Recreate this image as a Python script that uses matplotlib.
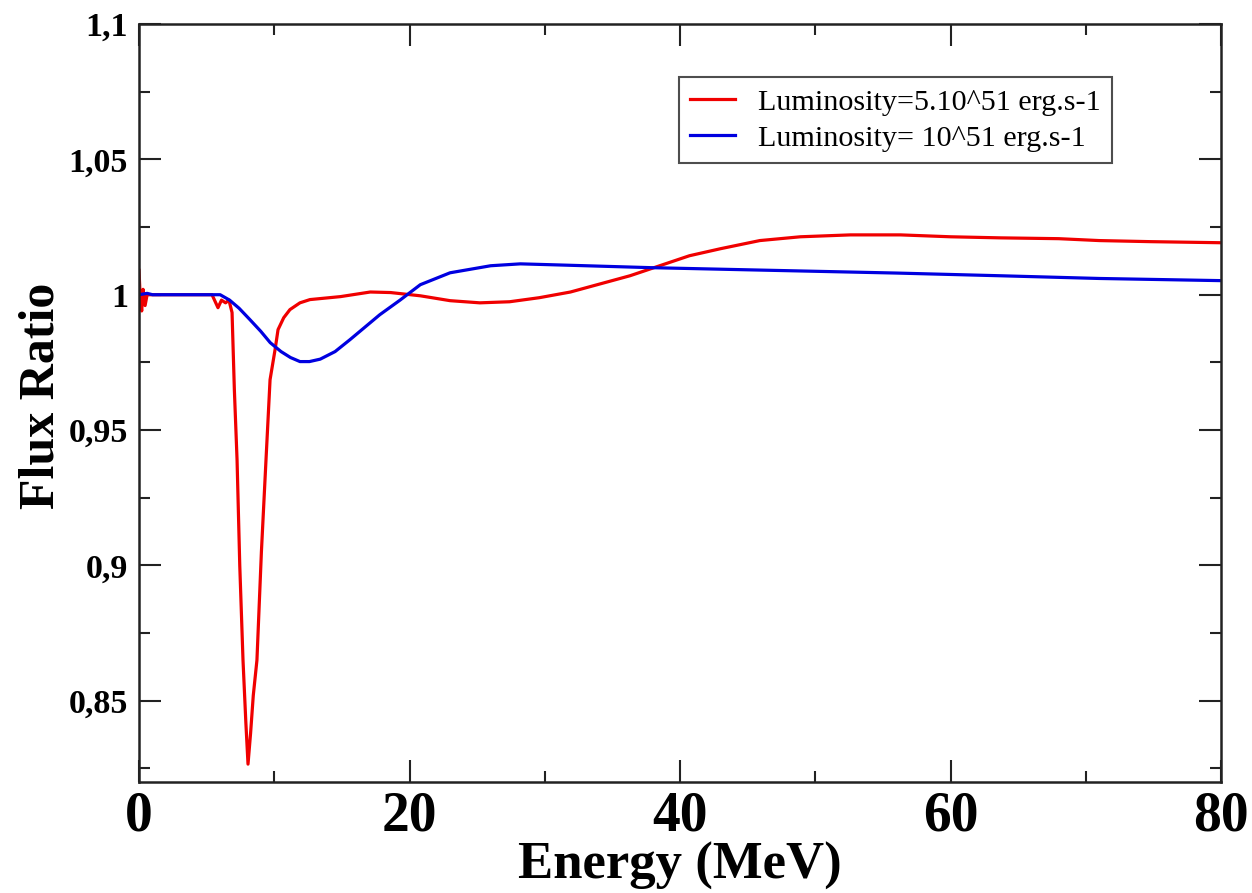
import matplotlib.pyplot as plt
from matplotlib.ticker import MultipleLocator, FuncFormatter

# Flux ratio vs neutrino energy for two luminosities
E_high = [0.0, 0.1, 0.2, 0.3, 0.45, 0.6, 1.0, 3.0, 5.4, 5.84, 6.1, 6.4, 6.65,
          6.88, 7.05, 7.25, 7.45, 7.69, 7.9, 8.06, 8.25, 8.45, 8.72, 9.05,
          9.39, 9.69, 10.06, 10.28, 10.7, 11.16, 11.9, 12.64, 14.9, 17.1,
          18.6, 20.8, 23.0, 25.2, 27.4, 29.6, 31.9, 34.1, 36.3, 38.5, 40.7,
          43.0, 45.9, 48.9, 52.6, 56.3, 60.0, 63.7, 68.0, 71.0, 74.8, 80.0]
ratio_high = [1.009, 0.998, 0.994, 1.002, 0.996, 1.0, 1.0, 1.0, 1.0, 0.9952,
              0.998, 0.997, 0.998, 0.9934, 0.965, 0.939, 0.90, 0.865, 0.842,
              0.8266, 0.838, 0.852, 0.865, 0.905, 0.939, 0.9686, 0.9797,
              0.9871, 0.9915, 0.9945, 0.997, 0.9982, 0.9993, 1.001, 1.0008,
              0.9996, 0.9978, 0.997, 0.9974, 0.9989, 1.001, 1.004, 1.007,
              1.0107, 1.0144, 1.017, 1.020, 1.0214, 1.0221, 1.0221, 1.0214,
              1.021, 1.0207, 1.020, 1.0196, 1.0192]

E_low = [0.0, 0.6, 1.0, 3.0, 6.0, 6.7, 7.4, 8.2, 9.0, 9.7, 10.5, 11.2, 11.9,
         12.6, 13.4, 14.5, 15.6, 16.7, 17.8, 19.3, 20.8, 23.0, 26.0, 28.2,
         31.0, 37.8, 45.0, 56.0, 63.7, 71.0, 80.0]
ratio_low = [1.0, 1.0005, 1.0, 1.0, 1.0, 0.998, 0.995, 0.9908, 0.9865, 0.9823,
             0.979, 0.9768, 0.9753, 0.9753, 0.9762, 0.979, 0.9834, 0.988,
             0.9926, 0.998, 1.0037, 1.0081, 1.0107, 1.0114, 1.011, 1.010,
             1.0092, 1.008, 1.007, 1.006, 1.0052]

label_high = 'Luminosity=5.10^51 erg.s-1'
label_low = 'Luminosity= 10^51 erg.s-1'

plt.rcParams['font.family'] = ['Liberation Serif', 'DejaVu Serif']

fig = plt.figure(figsize=(12.52, 8.93), dpi=100)
ax = fig.add_axes([139 / 1252, 1 - 782 / 893, 1082 / 1252, 758 / 893])

ax.plot(E_high, ratio_high, color='#f00000', lw=2.3, label=label_high)
ax.plot(E_low, ratio_low, color='#0000e0', lw=2.3, label=label_low)

ax.set_xlim(0, 80)
ax.set_ylim(0.82, 1.1)
ax.xaxis.set_major_locator(MultipleLocator(20))
ax.xaxis.set_minor_locator(MultipleLocator(10))
ax.yaxis.set_major_locator(MultipleLocator(0.05))
ax.yaxis.set_minor_locator(MultipleLocator(0.025))


def comma_fmt(v, pos):
    s = ('%.2f' % v).rstrip('0').rstrip('.')
    return s.replace('.', ',')


ax.yaxis.set_major_formatter(FuncFormatter(comma_fmt))

ax.tick_params(which='both', direction='in', top=True, right=True, width=1.5,
               color='#222222')
ax.tick_params(which='major', length=16)
ax.tick_params(which='minor', length=8)
ax.tick_params(axis='x', which='major', labelsize=40, pad=6)
ax.tick_params(axis='y', which='major', labelsize=24.5, pad=8)
for lab in ax.get_xticklabels() + ax.get_yticklabels():
    lab.set_fontweight('bold')
for sp in ax.spines.values():
    sp.set_linewidth(1.8)
    sp.set_color('#222222')

ax.set_xlabel('Energy (MeV)', fontsize=38, fontweight='bold', labelpad=0)
ax.set_ylabel('Flux Ratio', fontsize=36, fontweight='bold')
ax.yaxis.set_label_coords(-0.069, 0.51)

leg = ax.legend(loc='upper right', bbox_to_anchor=(0.8993, 0.930),
                fontsize=21.7, frameon=True, fancybox=False, borderaxespad=0,
                handlelength=1.5, handletextpad=0.75, borderpad=0.38,
                labelspacing=0.3)
leg.get_frame().set_edgecolor('#222222')
leg.get_frame().set_linewidth(1.5)

fig.savefig('out.png', dpi=100)
